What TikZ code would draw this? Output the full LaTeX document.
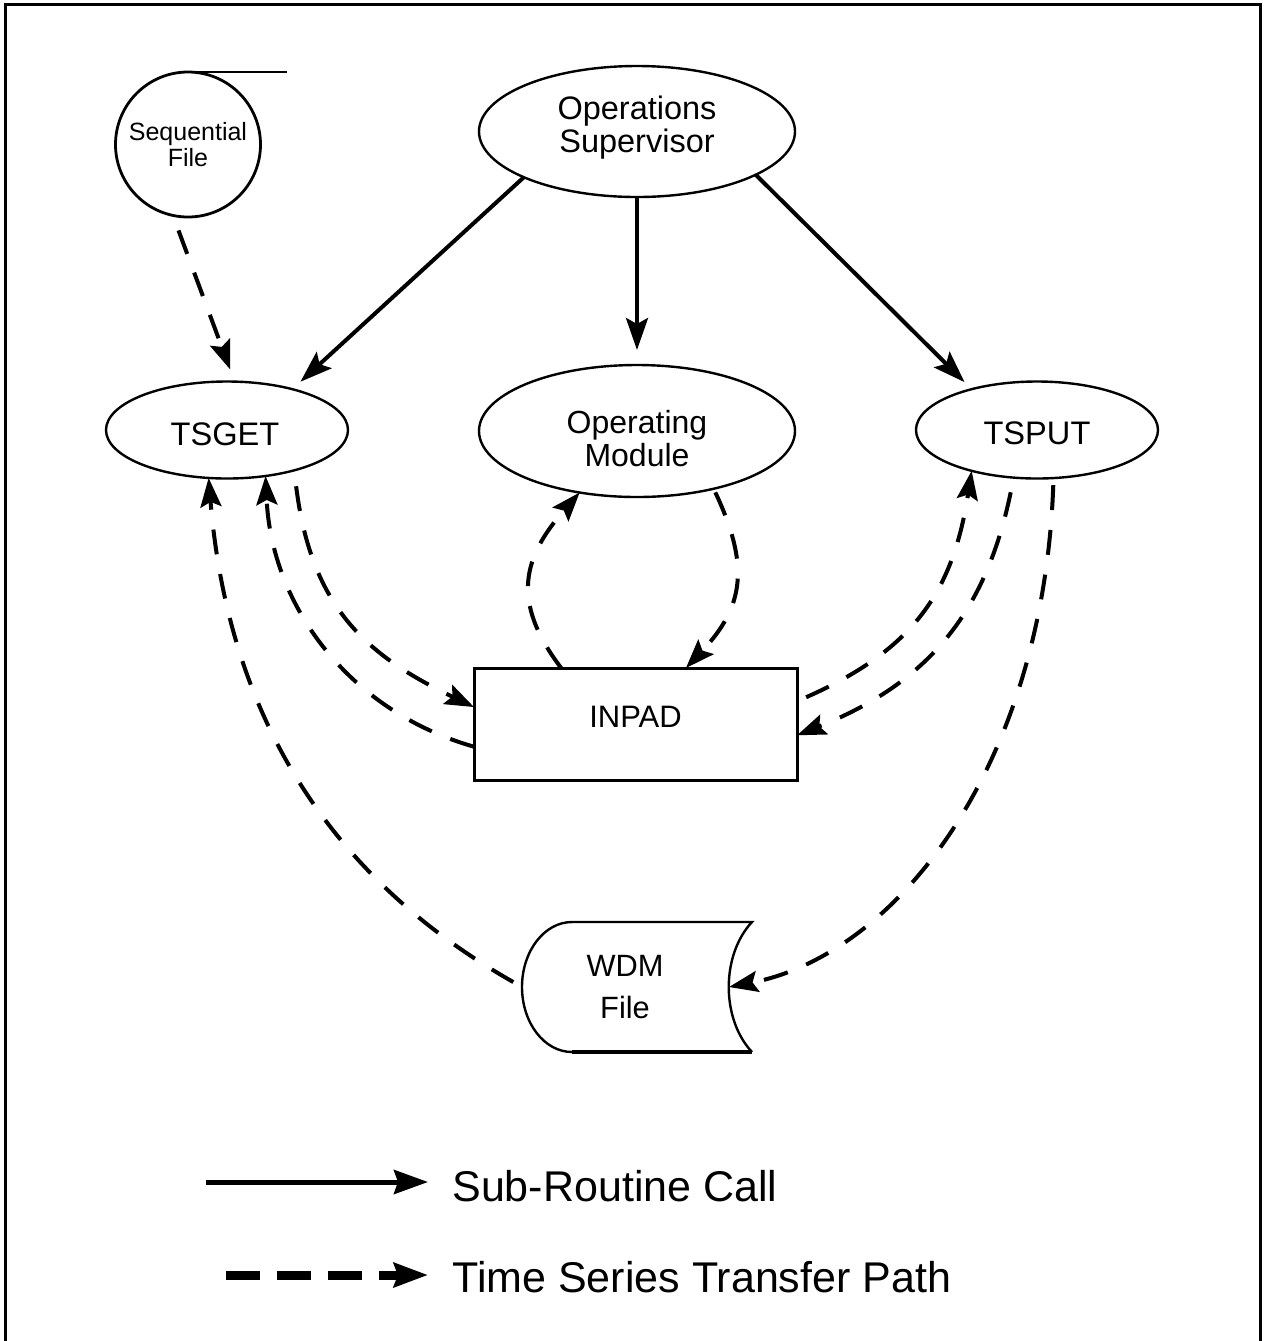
\documentclass[tikz,border=0pt]{standalone}
\usepackage{fontspec}
\setmainfont{Liberation Sans}
\usetikzlibrary{arrows.meta,shapes.geometric}

% move a label by (#1 right, #2 up) without changing the space it takes
\newcommand\shifttext[3]{\raisebox{#2}[\height][\depth]{\kern#1\relax\rlap{#3}\phantom{#3}\kern-#1\relax}}

\begin{document}
\begin{tikzpicture}[x=0.5pt,y=-0.5pt,
  shapeline/.style={draw, line width=1.2pt, inner sep=0pt, outer sep=0pt},
  oval/.style={shapeline, ellipse},
  call/.style={line width=2pt, -{Stealth[length=16pt,width=11pt,inset=3pt]}},
  transfer/.style={line width=2pt, dash pattern=on 12.5pt off 10pt,
    -{Stealth[length=14.5pt,width=10.5pt,inset=2.5pt]}},
  legtext/.style={inner sep=0pt, anchor=base west,
    font=\fontsize{21.5pt}{24pt}\selectfont},
]
\useasboundingbox (0,0) rectangle (1265,1341);

% outer frame, open at the bottom
\draw[line width=1.6pt] (5.5,1341) -- (5.5,4.5) -- (1260.5,4.5) -- (1260.5,1341);

% ---- nodes ----
\node[shapeline, circle, line width=1.4pt, minimum size=72.5pt, align=center,
      font=\fontsize{12.5pt}{13.3pt}\selectfont] (seq) at (188,144.5) {Sequential\\File};
\draw[line width=1.4pt] (seq.north) -- ++(99,0);

\node[oval, minimum width=158pt, minimum height=65.5pt,
      font=\fontsize{16.25pt}{16.5pt}\selectfont] (ops) at (637,131.5)
  {\shifttext{0pt}{1.1pt}{\begin{tabular}{@{}c@{}}Operations\\Supervisor\end{tabular}}};
\node[oval, minimum width=121pt, minimum height=48.5pt,
      font=\fontsize{16.3pt}{18pt}\selectfont] (tsget) at (227,430)
  {\shifttext{-1pt}{-2pt}{TSGET}};
\node[oval, minimum width=158pt, minimum height=66pt,
      font=\fontsize{16pt}{15.8pt}\selectfont] (opmod) at (637,431)
  {\shifttext{0pt}{-6.1pt}{\begin{tabular}{@{}c@{}}Operating\\Module\end{tabular}}};
\node[oval, minimum width=121pt, minimum height=48.5pt,
      font=\fontsize{16.3pt}{18pt}\selectfont] (tsput) at (1037,430)
  {\shifttext{0pt}{-1.8pt}{TSPUT}};
\node[shapeline, rectangle, line width=1.5pt, minimum width=161.5pt, minimum height=56pt,
      font=\fontsize{15.5pt}{17pt}\selectfont] (inpad) at (635.5,724)
  {\shifttext{0pt}{3.7pt}{INPAD}};

% WDM file symbol: text node plus its outline
\node[inner sep=0pt, outer sep=0pt, minimum width=115pt, minimum height=65pt, align=center,
      font=\fontsize{15.4pt}{21pt}\selectfont] (wdm) at (637,987) {WDM\hspace*{12pt}\\File\hspace*{12pt}};
\draw[line width=1.2pt] (572,922) -- (752,922) .. controls (721,955) and (721,1019) .. (752,1052);
\draw[line width=2pt] (752,1052) -- (572,1052);
\draw[line width=1.2pt] (572,1052) .. controls (544.4,1052) and (522,1022.9) .. (522,987)
      .. controls (522,951.1) and (544.4,922) .. (572,922);

% ---- sub-routine calls ----
\draw[call, shorten >=5.5pt] (ops.-158.7) -- (tsget.32.6);
\draw[call, shorten >=7.5pt] (ops.south) -- (opmod.north);
\draw[call, shorten >=5pt] (ops.-20.2) -- (tsput.148.1);

% ---- time series transfer paths ----
\draw[transfer, shorten <=8pt, shorten >=6.5pt] (seq.-102.3) -- (tsget.81.2);

\draw[transfer, shorten <=8pt] (tsget.-31) .. controls +(17,136.5) and +(-108.5,-52) .. (inpad.174);
\draw[transfer] (inpad.-172.4) .. controls +(-125,-35.5) and +(5.9,129.5) .. (tsget.-50.7);
\draw[transfer, shorten <=5pt] (wdm.west) .. controls +(-200,-113.6) and +(18.8,228.8) .. (tsget.-111.4);

\draw[transfer] (inpad.143.1) .. controls +(-51.5,-67.7) and +(-56,64) .. (opmod.-133.4);
\draw[transfer, shorten <=2pt] (opmod.-37.7) .. controls +(36.2,77) and +(58.5,-61.7) .. (inpad.48);

\draw[transfer, shorten <=5pt] (inpad.8.1) .. controls +(114.3,-50.7) and +(-19,123.5) .. (tsput.-148.1);
\draw[transfer, shorten <=7.5pt] (tsput.-116.8) .. controls +(-28.6,137) and +(130,-52) .. (inpad.-4.6);
\draw[transfer, shorten <=3.5pt] (tsput.-71.4) .. controls +(-10.4,289.7) and +(167,-32.3) .. ([xshift=-11.5pt]wdm.east);

% ---- legend ----
\coordinate (callfrom) at (206,1182);
\coordinate (callto) at (428,1182);
\draw[line width=2.5pt, -{Stealth[length=17pt,width=12pt,inset=2pt]}] (callfrom) -- (callto);
\node[legtext] (calltext) at (452,1201) {Sub-Routine Call};

\coordinate (pathfrom) at (226,1275);
\coordinate (pathto) at (428,1275);
\draw[line width=4.5pt, dash pattern=on 17pt off 8.5pt,
      -{Stealth[length=17pt,width=12pt,inset=2pt]}] (pathfrom) -- (pathto);
\node[legtext] (pathtext) at (452,1292) {Time Series Transfer Path};
\end{tikzpicture}
\end{document}
